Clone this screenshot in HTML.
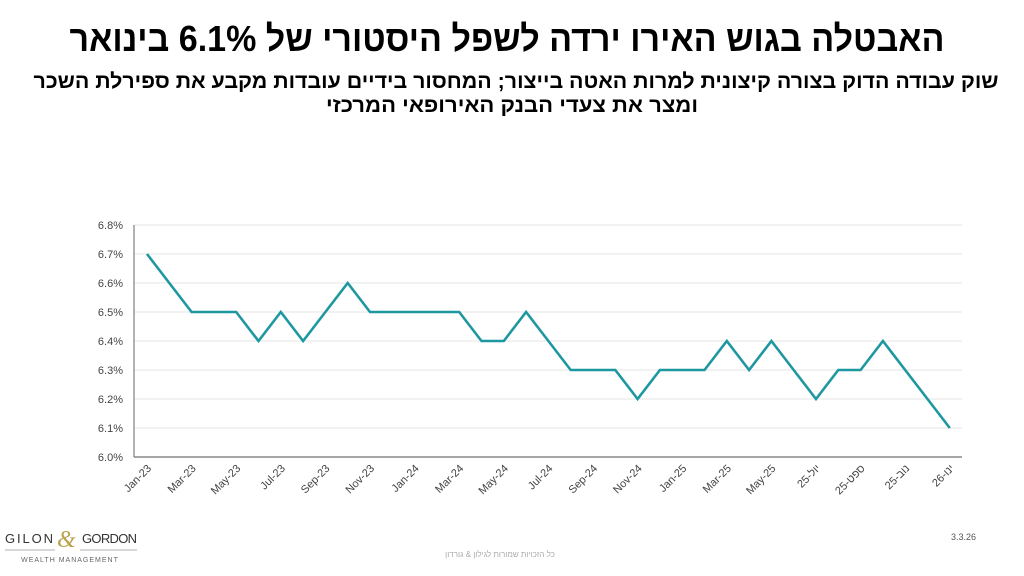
<!DOCTYPE html>
<html><head><meta charset="utf-8"><style>
body{margin:0;background:#fff;}
svg{display:block}
</style></head><body>
<svg width="1024" height="576" xmlns="http://www.w3.org/2000/svg" font-family="'Liberation Sans','DejaVu Sans',sans-serif">
<text x="507" y="51" text-anchor="middle" font-size="36" font-weight="bold" direction="rtl" textLength="875" lengthAdjust="spacingAndGlyphs" fill="#000">האבטלה בגוש האירו ירדה לשפל היסטורי של 6.1% בינואר</text>
<text x="516" y="88" text-anchor="middle" font-size="21" font-weight="bold" direction="rtl" textLength="965" lengthAdjust="spacingAndGlyphs" fill="#000">שוק עבודה הדוק בצורה קיצונית למרות האטה בייצור; המחסור בידיים עובדות מקבע את ספירלת השכר</text>
<text x="512" y="112" text-anchor="middle" font-size="21" font-weight="bold" direction="rtl" textLength="372" lengthAdjust="spacingAndGlyphs" fill="#000">ומצר את צעדי הבנק האירופאי המרכזי</text>
<g id="grid" stroke="#e6e6e6" stroke-width="1"></g>
<line x1="134" y1="225" x2="134" y2="457" stroke="#999" stroke-width="1.5"/>
<line x1="134" y1="457" x2="962" y2="457" stroke="#888" stroke-width="1.5"/>
<g id="ylab" font-size="11" fill="#444" text-anchor="end"></g>
<g id="xlab" font-size="11" fill="#444" text-anchor="end"></g>
<polyline id="ln" fill="none" stroke="#1e98a0" stroke-width="2.6" stroke-linejoin="miter"/>
<text x="976" y="540" font-size="9" fill="#555" text-anchor="end">3.3.26</text>
<text x="500" y="557" font-size="8" fill="#aaa" text-anchor="middle" direction="rtl">כל הזכויות שמורות לגילון &amp; גורדון</text>
<text x="5" y="543" font-size="13" fill="#333" textLength="48" lengthAdjust="spacing">GILON</text>
<text x="57" y="547" font-size="24" fill="#b8a24a" font-family="'Liberation Serif',serif" font-style="italic">&amp;</text>
<text x="82" y="543" font-size="13" fill="#333" textLength="55" lengthAdjust="spacing">GORDON</text>
<line x1="5" y1="550" x2="55" y2="550" stroke="#999" stroke-width="0.8"/>
<line x1="80" y1="550" x2="137" y2="550" stroke="#999" stroke-width="0.8"/>
<text x="70" y="562" font-size="7" fill="#666" letter-spacing="1" text-anchor="middle">WEALTH MANAGEMENT</text>
</svg>
<script>
var ns="http://www.w3.org/2000/svg";
function Y(v){return 457-(v-6.0)*290;}
var g=document.getElementById('grid'),yl=document.getElementById('ylab');
for(var i=0;i<=8;i++){var v=6+i/10,y=Y(v);
 if(i>0){var l=document.createElementNS(ns,'line');l.setAttribute('x1',134);l.setAttribute('x2',962);l.setAttribute('y1',y);l.setAttribute('y2',y);g.appendChild(l);}
 var t=document.createElementNS(ns,'text');t.setAttribute('x',123);t.setAttribute('y',y+4);t.textContent=v.toFixed(1)+'%';yl.appendChild(t);}
var d=[6.7,6.6,6.5,6.5,6.5,6.4,6.5,6.4,6.5,6.6,6.5,6.5,6.5,6.5,6.5,6.4,6.4,6.5,6.4,6.3,6.3,6.3,6.2,6.3,6.3,6.3,6.4,6.3,6.4,6.3,6.2,6.3,6.3,6.4,6.3,6.2,6.1];
var pts=d.map(function(v,i){return (147+i*22.3).toFixed(1)+','+Y(v).toFixed(1);}).join(' ');
document.getElementById('ln').setAttribute('points',pts);
var labs=['Jan-23','Mar-23','May-23','Jul-23','Sep-23','Nov-23','Jan-24','Mar-24','May-24','Jul-24','Sep-24','Nov-24','Jan-25','Mar-25','May-25','25-יול','25-ספט','25-נוב','26-ינו'];
var xl=document.getElementById('xlab');
labs.forEach(function(s,k){var x=147+k*2*22.3+5,y=469;var t=document.createElementNS(ns,'text');
 t.setAttribute('x',x);t.setAttribute('y',y);t.setAttribute('transform','rotate(-45 '+x+' '+y+')');t.textContent=s;xl.appendChild(t);});
</script>
</body></html>
